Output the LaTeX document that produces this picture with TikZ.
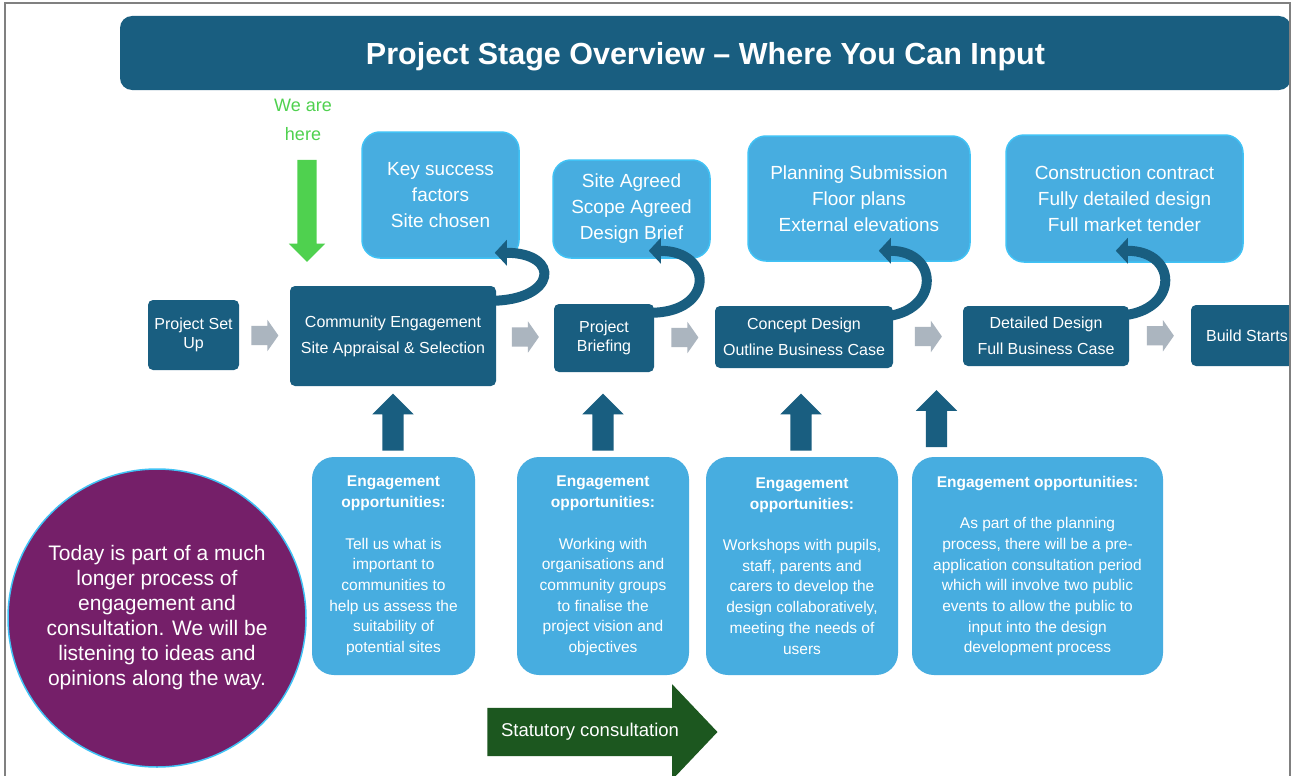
\documentclass[tikz,border=0pt]{standalone}
\usepackage{fontspec}
\setmainfont{Liberation Sans}
\usetikzlibrary{shapes.arrows}
\usetikzlibrary{calc}
\usetikzlibrary{arrows.meta}
\definecolor{Overview1}{rgb}{.10,.37,.50}
\definecolor{Overview2}{rgb}{.28,.68,.88}
\definecolor{Overview3}{rgb}{.25,.76,.96}
\definecolor{Overview4}{rgb}{.67,.71,.75}
\definecolor{Overview5}{rgb}{.46,.12,.41}
\definecolor{Overview6}{rgb}{.31,.82,.31}
\definecolor{Overview7}{rgb}{.11,.34,.12}
\begin{document}
\begin{tikzpicture}[x=1pt, y=-1pt,
  stagebox/.style={rectangle, rounded corners=5pt, fill=Overview1, text=white, align=center, inner sep=0pt, font=\fontsize{16}{26}\selectfont},
  outbox/.style={rectangle, rounded corners=18pt, fill=Overview2, draw=Overview3, line width=1.5pt, text=white, align=center, inner sep=0pt, font=\fontsize{19}{26}\selectfont},
  engbox/.style={rectangle, rounded corners=22pt, fill=Overview2, text=white, align=center, inner sep=0pt, minimum height=218pt, font=\fontsize{15.5}{20.7}\selectfont},
  nextarrow/.style={single arrow, fill=Overview4, inner xsep=0pt, inner ysep=9.5pt, minimum height=27pt, minimum width=31pt, single arrow head extend=6pt, single arrow tip angle=110, xshift=-3pt},
  uparrow/.style={single arrow, rotate=90, fill=Overview1, inner xsep=0pt, inner ysep=10.5pt, minimum height=57pt, minimum width=41pt, single arrow head extend=10pt, single arrow tip angle=90},
  curl/.style={draw=Overview1, line width=10pt, -{Triangle[length=12pt, width=25pt]}}
  ]
  \useasboundingbox (0,0) rectangle (1293,776);
  \fill[white] (0,0) rectangle (1293,776);
  \begin{scope}
    \clip (5,3) rectangle (1290,776);
    % title bar:
    \node [rectangle, rounded corners=12pt, fill=Overview1, minimum width=1171pt, minimum height=74pt, text depth=0pt, text=white, font=\fontsize{30.5}{36}\selectfont\bfseries] (title) at (705.5,53) {Project Stage Overview – Where You Can Input};
    %
    % we are here:
    \node [text=Overview6, align=center, font=\fontsize{18}{29}\selectfont] (here) at (303,119.5) {We are\\here};
    \node [single arrow, rotate=-90, fill=Overview6, inner xsep=0pt, inner ysep=9.5pt, minimum height=102pt, minimum width=36pt, single arrow head extend=8.5pt, single arrow tip angle=90] (herearrow) at (307,206) {};
    %
    % stages:
    \node [stagebox, minimum width=91pt, minimum height=70pt, font=\fontsize{16}{19.5}\selectfont] (s1) at (193.5,335) {Project Set\\Up};
    \node [stagebox, minimum width=206pt, minimum height=100pt] (s2) at (393,336) {Community Engagement\\Site Appraisal \& Selection};
    \node [stagebox, minimum width=100pt, minimum height=68pt, font=\fontsize{16}{19.5}\selectfont] (s3) at (604,338) {Project\\Briefing};
    \node [stagebox, minimum width=178pt, minimum height=62pt] (s4) at (804,337) {Concept Design\\Outline Business Case};
    \node [stagebox, minimum width=166pt, minimum height=60pt] (s5) at (1046,336) {Detailed Design\\Full Business Case};
    \node [stagebox, minimum width=112pt, minimum height=61pt] (s6) at (1247,335.5) {Build Starts};
    %
    \foreach \a/\b in {s1/s2, s2/s3, s3/s4, s4/s5, s5/s6}
      \node [nextarrow] (gap-\a) at ($(\a.east)!.5!(\b.west)$) {};
    %
    % outcomes:
    \node [outbox, minimum width=157pt, minimum height=126pt] (o1) at (440.5,195) {Key success\\factors\\Site chosen};
    \node [outbox, minimum width=157pt, minimum height=98pt] (o2) at (631.5,209) {Site Agreed\\Scope Agreed\\Design Brief};
    \node [outbox, minimum width=222pt, minimum height=125pt] (o3) at (859,198.5) {Planning Submission\\Floor plans\\External elevations};
    \node [outbox, minimum width=237pt, minimum height=127pt] (o4) at (1124.5,198.5) {Construction contract\\Fully detailed design\\Full market tender};
    %
    \draw [curl] ($(s2.north east)+(-6,15)$) .. controls +(67,0) and +(67,0) .. ($(o1.south east)+(-25,-6)$);
    \draw [curl] ($(s3.north east)+(-4,9)$) .. controls +(65,0) and +(65,0) .. ($(o2.south east)+(-62,-8)$);
    \draw [curl] ($(s4.north east)+(-16,11)$) .. controls +(63,0) and +(63,0) .. ($(o3.south east)+(-92,-11)$);
    \draw [curl] ($(s5.north east)+(-15,10)$) .. controls +(65,0) and +(65,0) .. ($(o4.south east)+(-128,-12)$);
    %
    % engagement:
    \node [uparrow] (u1) at (393,427.5) {};
    \node [uparrow] (u2) at (603,427.5) {};
    \node [uparrow] (u3) at (801,427.5) {};
    \node [uparrow] (u4) at (936.5,424) {};
    %
    \node [engbox, minimum width=163pt] (e1) at (393.5,566) {\textbf{Engagement}\\\textbf{opportunities:}\\[20.7pt]Tell us what is\\important to\\communities to\\help us assess the\\suitability of\\potential sites};
    \node [engbox, minimum width=172pt] (e2) at (603,566) {\textbf{Engagement}\\\textbf{opportunities:}\\[20.7pt]Working with\\organisations and\\community groups\\to finalise the\\project vision and\\objectives};
    \node [engbox, minimum width=192pt] (e3) at (802,566) {\textbf{Engagement}\\\textbf{opportunities:}\\[20.7pt]Workshops with pupils,\\staff, parents and\\carers to develop the\\design collaboratively,\\meeting the needs of\\users};
    \node [engbox, minimum width=251pt] (e4) at (1037.5,566) {\textbf{Engagement opportunities:}\\[20.7pt]As part of the planning\\process, there will be a pre-\\application consultation period\\which will involve two public\\events to allow the public to\\input into the design\\development process};
    %
    % today:
    \node [circle, fill=Overview5, draw=Overview3, line width=1.5pt, minimum size=298pt, inner sep=0pt, text=white, align=center, font=\fontsize{21}{25}\selectfont] (today) at (157,618) {Today is part of a much\\longer process of\\engagement and\\consultation. We will be\\listening to ideas and\\opinions along the way.};
    %
    % statutory:
    \node [single arrow, fill=Overview7, inner xsep=0pt, inner ysep=24pt, minimum height=230pt, minimum width=95pt, single arrow head extend=23.5pt, single arrow tip angle=93] (statarrow) at (591,732) {};
    \node [text=white, font=\fontsize{18.5}{22}\selectfont] (stattext) at (590,732) {Statutory consultation};
  \end{scope}
  % frame
  \draw [gray, line width=1.2pt] (5,776) -- (5,3) -- (1290,3) -- (1290,776);
\end{tikzpicture}
\end{document}
